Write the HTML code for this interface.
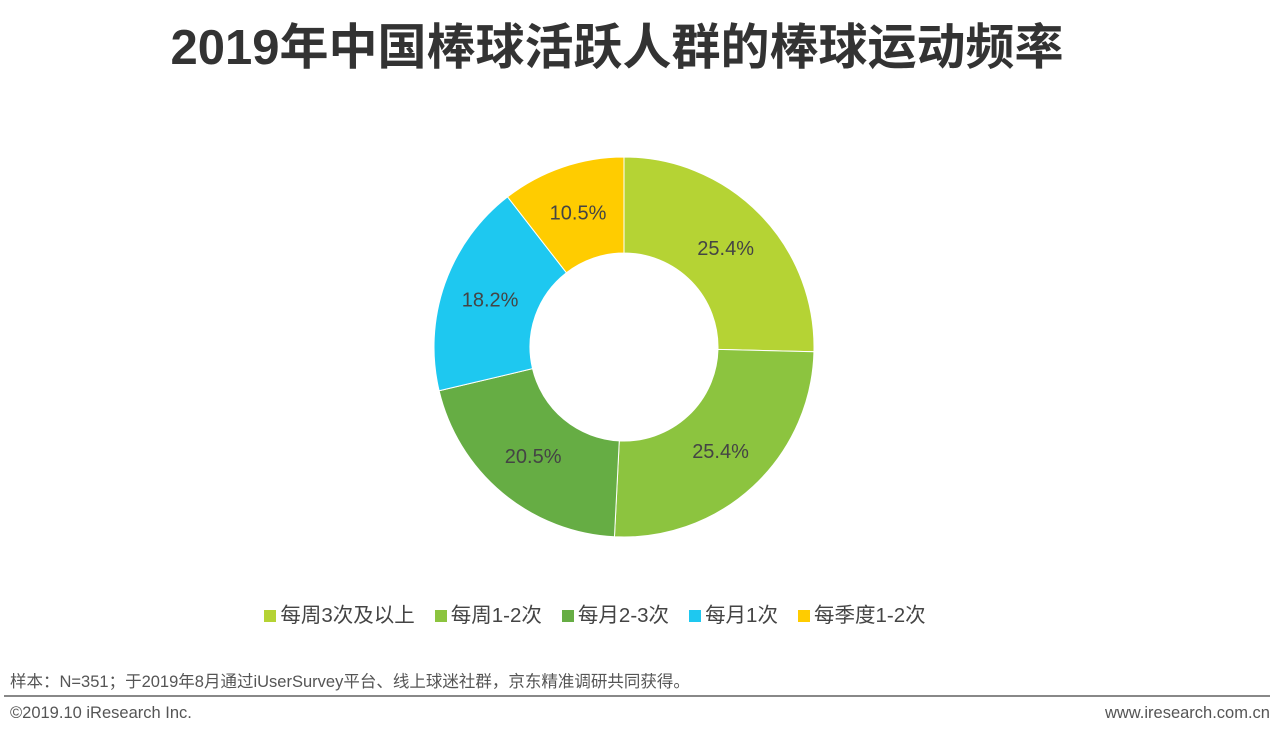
<!DOCTYPE html>
<html><head><meta charset="utf-8"><style>
body{margin:0;width:1280px;height:738px;background:#fff;overflow:hidden;font-family:"Liberation Sans","Noto Sans CJK SC",sans-serif;position:relative}
.t{position:absolute;white-space:nowrap}
</style></head><body>
<div class="t" style="left:0;width:1234px;text-align:center;top:8px;font-size:49px;font-weight:bold;color:#333">2019年中国棒球活跃人群的棒球运动频率</div>
<svg width="1280" height="738" style="position:absolute;left:0;top:0" id="svg"></svg>
<div class="t" style="left:10px;top:668px;font-size:16.5px;color:#555">样本：N=351；于2019年8月通过iUserSurvey平台、线上球迷社群，京东精准调研共同获得。</div>
<div style="position:absolute;left:4px;width:1266px;top:695px;height:2px;background:#888"></div>
<div class="t" style="left:10px;top:704px;font-size:16.5px;color:#555">©2019.10 iResearch Inc.</div>
<div class="t" style="right:10px;top:704px;font-size:16.5px;color:#555">www.iresearch.com.cn</div>
<script>
const categories=["每周3次及以上","每周1-2次","每月2-3次","每月1次","每季度1-2次"];
const values=[25.4,25.4,20.5,18.2,10.5];
const colors=["#b5d334","#8cc43f","#66ad44","#1ec8f0","#ffcc00"];
const svg=document.getElementById('svg');
const NS="http://www.w3.org/2000/svg";
const cx=624,cy=347,R=190,r=94;
const total=values.reduce((a,b)=>a+b,0);
let a0=0;
function pt(a,rad){return [cx+rad*Math.sin(a),cy-rad*Math.cos(a)];}
values.forEach((v,i)=>{
  const a1=a0+v/total*2*Math.PI;
  const [x0,y0]=pt(a0,R),[x1,y1]=pt(a1,R),[x2,y2]=pt(a1,r),[x3,y3]=pt(a0,r);
  const lg=(a1-a0)>Math.PI?1:0;
  const p=document.createElementNS(NS,'path');
  p.setAttribute('d',`M${x0},${y0}A${R},${R} 0 ${lg} 1 ${x1},${y1}L${x2},${y2}A${r},${r} 0 ${lg} 0 ${x3},${y3}Z`);
  p.setAttribute('fill',colors[i]);p.setAttribute('stroke','#fff');p.setAttribute('stroke-width','1');
  
  
  svg.appendChild(p);
  const [lx,ly]=pt((a0+a1)/2,(R+r)/2);
  const t=document.createElementNS(NS,'text');
  t.setAttribute('x',lx);t.setAttribute('y',ly+7);t.setAttribute('text-anchor','middle');
  t.setAttribute('font-size','20');t.setAttribute('fill','#444');
  t.setAttribute('font-family','"Liberation Sans",sans-serif');
  t.textContent=v.toFixed(1)+'%';
  
  
  svg.appendChild(t);
  a0=a1;
});
const lg=document.createElement('div');
lg.style.cssText='position:absolute;left:0;width:1190px;top:598px;text-align:center;font-size:20.5px;color:#444;white-space:nowrap';


categories.forEach((c,i)=>{
  const e=document.createElement('span');
  e.style.cssText='margin:0 10px';
  
  
  e.innerHTML=`<span style="display:inline-block;width:12px;height:12px;background:${colors[i]};margin-right:4px"></span>${c}`;
  lg.appendChild(e);
});
document.body.appendChild(lg);
</script>
</body></html>
